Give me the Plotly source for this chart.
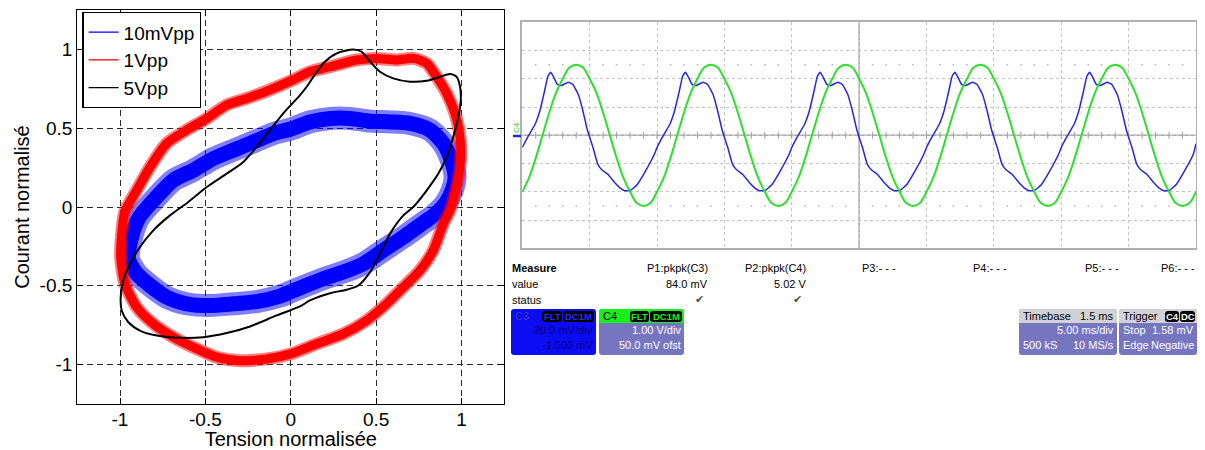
import plotly.graph_objects as go

W, H = 1205, 450               # browser window
OFF = 8                        # default page margin around the plot div
FW, FH = W - OFF, H - OFF      # figure size
VIS_R = 1197                   # right-most visible window pixel (page margin clips the rest)
FONT = "Liberation Sans, Arial, sans-serif"
SCOPE_FONT = "Liberation Sans, Arial, sans-serif"

# ---------------- left panel: normalised I-V loops ----------------
x_10mv = [-0.95, -0.932, -0.89, -0.785, -0.688, -0.571, -0.454, -0.337, -0.219, -0.102, 0.0,
          0.112, 0.23, 0.347, 0.464, 0.58, 0.698, 0.815, 0.893, 0.94, 0.962, 0.945, 0.905,
          0.84, 0.776, 0.659, 0.542, 0.425, 0.307, 0.19, 0.073, -0.005, -0.063, -0.2, -0.337,
          -0.473, -0.61, -0.727, -0.824, -0.902, -0.95]
y_10mv = [-0.33, -0.191, -0.07, 0.064, 0.17, 0.233, 0.307, 0.36, 0.413, 0.466, 0.495,
          0.54, 0.562, 0.562, 0.545, 0.54, 0.53, 0.488, 0.403, 0.297, 0.191, 0.106, 0.021,
          -0.05, -0.1, -0.191, -0.275, -0.36, -0.413, -0.455, -0.505, -0.54, -0.565, -0.60, -0.614,
          -0.625, -0.614, -0.572, -0.498, -0.424, -0.33]

x_1v = [-0.996, -0.99, -0.972, -0.902, -0.824, -0.727, -0.61, -0.492, -0.375, -0.258, -0.141,
        0.0, 0.112, 0.23, 0.386, 0.503, 0.62, 0.717, 0.796, 0.854, 0.913, 0.961, 0.985, 0.995,
        0.988, 0.965, 0.932, 0.893, 0.834, 0.756, 0.659, 0.561, 0.444, 0.307, 0.152, 0.0,
        -0.141, -0.297, -0.434, -0.571, -0.688, -0.805, -0.902, -0.971, -0.996]
y_1v = [-0.318, -0.169, -0.03, 0.106, 0.254, 0.403, 0.488, 0.562, 0.647, 0.689, 0.735,
        0.8, 0.858, 0.89, 0.933, 0.943, 0.933, 0.943, 0.911, 0.826, 0.721, 0.594, 0.488, 0.36,
        0.233, 0.106, -0.021, -0.106, -0.275, -0.403, -0.509, -0.614, -0.72, -0.805, -0.868, -0.932,
        -0.964, -0.975, -0.953, -0.89, -0.826, -0.741, -0.636, -0.487, -0.318]

x_5v = [0.981, 0.951, 0.913, 0.864, 0.796, 0.717, 0.659, 0.581, 0.522, 0.464, 0.395, 0.327,
        0.23, 0.112, 0.054, -0.083, -0.239, -0.375, -0.512, -0.649, -0.785, -0.883, -0.951,
        -0.99, -0.996, -0.981, -0.941, -0.883, -0.805, -0.707, -0.6, -0.492, -0.375, -0.278,
        -0.2, -0.122, -0.044, 0.054, 0.093, 0.19, 0.269, 0.366, 0.415, 0.464, 0.522, 0.60,
        0.698, 0.796, 0.874, 0.932, 0.971, 0.991, 0.995, 0.981]
y_5v = [0.572, 0.445, 0.318, 0.212, 0.106, 0.0, -0.053, -0.169, -0.296, -0.413, -0.498, -0.525,
        -0.547, -0.593, -0.631, -0.688, -0.758, -0.80, -0.826, -0.830, -0.816, -0.784, -0.731,
        -0.657, -0.572, -0.466, -0.36, -0.254, -0.148, -0.053, 0.032, 0.127, 0.212, 0.286,
        0.381, 0.488, 0.594, 0.71, 0.763, 0.912, 0.975, 1.0, 0.985, 0.922, 0.858, 0.816,
        0.795, 0.801, 0.826, 0.844, 0.826, 0.763, 0.678, 0.572]

series_names = ["10mVpp", "1Vpp", "5Vpp"]
tick_vals = [-1, -0.5, 0, 0.5, 1]
tick_text = ["-1", "-0.5", "0", "0.5", "1"]
x_title = "Tension normalisée"
y_title = "Courant normalisé"

# ---------------- right panel: scope traces (in divisions) ----------------
c3_t = [0.00, 0.09, 0.19, 0.26, 0.33, 0.38, 0.42, 0.46, 0.52, 0.58, 0.68, 0.75, 0.83, 0.90, 0.97, 1.05, 1.12, 1.18, 1.27, 1.37, 1.47, 1.52, 1.60, 1.71, 1.83, 1.96,
        2.00, 2.09, 2.19, 2.26, 2.33, 2.38, 2.42, 2.46, 2.52, 2.58, 2.68, 2.75, 2.83, 2.90, 2.97, 3.05, 3.12, 3.18, 3.27, 3.37, 3.47, 3.52, 3.60, 3.71, 3.83, 3.96,
        4.00, 4.09, 4.19, 4.26, 4.33, 4.38, 4.42, 4.46, 4.52, 4.58, 4.68, 4.75, 4.83, 4.90, 4.97, 5.05, 5.12, 5.18, 5.27, 5.37, 5.47, 5.52, 5.60, 5.71, 5.83, 5.96,
        6.00, 6.09, 6.19, 6.26, 6.33, 6.38, 6.42, 6.46, 6.52, 6.58, 6.68, 6.75, 6.83, 6.90, 6.97, 7.05, 7.12, 7.18, 7.27, 7.37, 7.47, 7.52, 7.60, 7.71, 7.83, 7.96,
        8.00, 8.09, 8.19, 8.26, 8.33, 8.38, 8.42, 8.46, 8.52, 8.58, 8.68, 8.75, 8.83, 8.90, 8.97, 9.05, 9.12, 9.18, 9.27, 9.37, 9.47, 9.52, 9.60, 9.71, 9.83, 9.96,
        10.0]
c3_v = [-0.43, -0.02, 0.39, 0.86, 1.56, 2.09, 2.23, 2.09, 1.80, 1.76, 1.88, 1.80, 1.45, 0.86, 0.15, -0.43, -1.02, -1.22, -1.38, -1.67, -1.90, -1.96, -1.96, -1.73, -1.26, -0.67,
        -0.43, -0.02, 0.39, 0.86, 1.56, 2.09, 2.23, 2.09, 1.80, 1.76, 1.88, 1.80, 1.45, 0.86, 0.15, -0.43, -1.02, -1.22, -1.38, -1.67, -1.90, -1.96, -1.96, -1.73, -1.26, -0.67,
        -0.43, -0.02, 0.39, 0.86, 1.56, 2.09, 2.23, 2.09, 1.80, 1.76, 1.88, 1.80, 1.45, 0.86, 0.15, -0.43, -1.02, -1.22, -1.38, -1.67, -1.90, -1.96, -1.96, -1.73, -1.26, -0.67,
        -0.43, -0.02, 0.39, 0.86, 1.56, 2.09, 2.23, 2.09, 1.80, 1.76, 1.88, 1.80, 1.45, 0.86, 0.15, -0.43, -1.02, -1.22, -1.38, -1.67, -1.90, -1.96, -1.96, -1.73, -1.26, -0.67,
        -0.43, -0.02, 0.39, 0.86, 1.56, 2.09, 2.23, 2.09, 1.80, 1.76, 1.88, 1.80, 1.45, 0.86, 0.15, -0.43, -1.02, -1.22, -1.38, -1.67, -1.90, -1.96, -1.96, -1.73, -1.26, -0.67,
        -0.30]
c4_t = [i / 10 for i in range(101)]
c4_v = [-2.0, -1.5, -0.8, 0.0, 0.8, 1.5, 2.0, 2.4, 2.5, 2.4, 2.0, 1.5, 0.8, 0.0, -0.8, -1.5, -2.0, -2.4, -2.5, -2.4,
        -2.0, -1.5, -0.8, 0.0, 0.8, 1.5, 2.0, 2.4, 2.5, 2.4, 2.0, 1.5, 0.8, 0.0, -0.8, -1.5, -2.0, -2.4, -2.5, -2.4,
        -2.0, -1.5, -0.8, 0.0, 0.8, 1.5, 2.0, 2.4, 2.5, 2.4, 2.0, 1.5, 0.8, 0.0, -0.8, -1.5, -2.0, -2.4, -2.5, -2.4,
        -2.0, -1.5, -0.8, 0.0, 0.8, 1.5, 2.0, 2.4, 2.5, 2.4, 2.0, 1.5, 0.8, 0.0, -0.8, -1.5, -2.0, -2.4, -2.5, -2.4,
        -2.0, -1.5, -0.8, 0.0, 0.8, 1.5, 2.0, 2.4, 2.5, 2.4, 2.0, 1.5, 0.8, 0.0, -0.8, -1.5, -2.0, -2.4, -2.5, -2.4,
        -2.0]
trigger_pos_div = 5.3

measure_headers = ["P1:pkpk(C3)", "P2:pkpk(C4)", "P3:- - -", "P4:- - -", "P5:- - -", "P6:- - -"]
measure_values = ["84.0 mV", "5.02 V", "", "", "", ""]
measure_status = ["\u2714", "\u2714", "", "", "", ""]

# ---------------- helpers (window pixel -> paper) ----------------
def px(x):
    return (x - OFF) / FW


def py(y):
    return 1 - (y - OFF) / FH


def rrect_path(x0, y0, x1, y1, r, top=True, bottom=True):
    rt = r if top else 0
    rb = r if bottom else 0
    p = [f"M{px(x0)},{py(y0 + rt)}"]
    if rt:
        p.append(f"Q{px(x0)},{py(y0)} {px(x0 + rt)},{py(y0)}")
    p.append(f"L{px(x1 - rt)},{py(y0)}")
    if rt:
        p.append(f"Q{px(x1)},{py(y0)} {px(x1)},{py(y0 + rt)}")
    p.append(f"L{px(x1)},{py(y1 - rb)}")
    if rb:
        p.append(f"Q{px(x1)},{py(y1)} {px(x1 - rb)},{py(y1)}")
    p.append(f"L{px(x0 + rb)},{py(y1)}")
    if rb:
        p.append(f"Q{px(x0)},{py(y1)} {px(x0)},{py(y1 - rb)}")
    p.append("Z")
    return " ".join(p)


shapes = []
annotations = []


def box(x0, y0, x1, y1, fill, r=3, top=True, bottom=True):
    shapes.append(dict(type="path", path=rrect_path(x0, y0, x1, y1, r, top, bottom),
                       xref="paper", yref="paper", fillcolor=fill,
                       line=dict(width=0), layer="above"))


def label(text, x, y, anchor="left", color="black", size=11, bold=False, family=SCOPE_FONT, angle=0):
    annotations.append(dict(text=f"<b>{text}</b>" if bold else text, x=px(x), y=py(y),
                            xref="paper", yref="paper", xanchor=anchor, yanchor="middle",
                            showarrow=False, textangle=angle, borderpad=0,
                            font=dict(family=family, size=size, color=color)))


fig = go.Figure()

# ---------------- left panel traces (noisy bands: soft halo + core) ----------------
left_series = [(x_10mv, y_10mv, "#0000ff", 15, 23), (x_1v, y_1v, "#ff0000", 9, 13), (x_5v, y_5v, "#000000", 2, 0)]
for (xs, ys, color, core, halo) in left_series:
    if halo:
        fig.add_trace(go.Scatter(x=xs, y=ys, mode="lines", xaxis="x", yaxis="y", opacity=0.5,
                                 line=dict(color=color, width=halo, shape="spline", smoothing=0.7),
                                 showlegend=False, hoverinfo="skip"))
    fig.add_trace(go.Scatter(x=xs, y=ys, mode="lines", xaxis="x", yaxis="y",
                             line=dict(color=color, width=core, shape="spline", smoothing=0.7),
                             showlegend=False, hoverinfo="skip"))
for name, (_, _, color, _, _) in zip(series_names, left_series):
    fig.add_trace(go.Scatter(x=[None], y=[None], mode="lines", name=name, xaxis="x", yaxis="y",
                             line=dict(color=color, width=1.3)))

# ---------------- scope traces ----------------
tick_t = [k / 5 for k in range(1, 50)]
fig.add_trace(go.Scatter(x=tick_t, y=[0] * len(tick_t), mode="markers", xaxis="x2", yaxis="y2",
                         marker=dict(symbol="line-ns", size=5, line=dict(width=1, color="#a0a0a0")),
                         showlegend=False, hoverinfo="skip"))
dot_t = [k / 5 for k in range(1, 50) if k % 5 != 0]
for lvl in (2.5, -2.5):
    fig.add_trace(go.Scatter(x=dot_t, y=[lvl] * len(dot_t), mode="markers", xaxis="x2", yaxis="y2",
                             marker=dict(symbol="square", size=1.6, color="#b8b8b8"),
                             showlegend=False, hoverinfo="skip"))
fig.add_trace(go.Scatter(x=c3_t, y=c3_v, mode="lines", xaxis="x2", yaxis="y2", name="C3",
                         line=dict(color="#2828d8", width=1.5, shape="spline", smoothing=0.4),
                         showlegend=False, hoverinfo="skip"))
fig.add_trace(go.Scatter(x=c4_t, y=c4_v, mode="lines", xaxis="x2", yaxis="y2", name="C4",
                         line=dict(color="#2ee02e", width=2, shape="spline", smoothing=1.0),
                         showlegend=False, hoverinfo="skip"))
# trigger markers
fig.add_trace(go.Scatter(x=[10.05], y=[0], mode="markers", xaxis="x2", yaxis="y2", cliponaxis=False,
                         marker=dict(symbol="triangle-left", size=8, color="#22cc22"),
                         showlegend=False, hoverinfo="skip"))
fig.add_trace(go.Scatter(x=[trigger_pos_div], y=[-4.17], mode="markers", xaxis="x2", yaxis="y2", cliponaxis=False,
                         marker=dict(symbol="triangle-up", size=8, color="#22cc22"),
                         showlegend=False, hoverinfo="skip"))

# scope centre lines
shapes.append(dict(type="line", xref="x2", yref="y2", x0=5, x1=5, y0=-4, y1=4,
                   line=dict(color="#a8a8a8", width=1.5), layer="below"))
shapes.append(dict(type="line", xref="x2", yref="y2", x0=0, x1=10, y0=0, y1=0,
                   line=dict(color="#a8a8a8", width=1.5), layer="below"))

# channel marker left of the grid
shapes.append(dict(type="line", xref="paper", yref="paper", x0=px(513), x1=px(521), y0=py(136), y1=py(136),
                   line=dict(color="#2828d8", width=2.5)))
label("C4", 517, 128, anchor="center", color="#22cc22", size=8, family=FONT, angle=-90)

# ---------------- measure table ----------------
label("Measure", 511, 268, bold=True)
label("value", 511, 284)
label("status", 511, 300)
col_right = [709, 807, 897, 1008, 1120, VIS_R - 1]
for hdr, val, st, xr in zip(measure_headers, measure_values, measure_status, col_right):
    label(hdr, xr, 268, anchor="right")
    if val:
        label(val, xr, 284, anchor="right")
    if st:
        label(st, xr - 4, 299, anchor="right", color="#505050", size=11, family="DejaVu Sans")

# ---------------- channel / timebase boxes ----------------
PURPLE = "#7676c0"
BADGE = 9.5
# C3
box(511, 309, 596, 355, "#0c0cf2")
label("C3", 514, 316, color="#3a3ab8")
box(542, 311, 562, 322, "#000000", r=3)
box(563, 311, 594, 322, "#000000", r=3)
label("FLT", 552, 316.5, anchor="center", color="#2a2aff", size=BADGE, bold=True)
label("DC1M", 578.5, 316.5, anchor="center", color="#2a2aff", size=BADGE, bold=True)
label("20.0 mV/div", 594, 330, anchor="right", color="#00007a")
label("-1.000 mV", 594, 345, anchor="right", color="#00007a")
# C4
box(599, 309, 684, 355, PURPLE)
box(599, 309, 684, 323, "#19f019", bottom=False)
label("C4", 602, 316, color="black")
box(630, 311, 649, 322, "#000000", r=3)
box(650, 311, 682, 322, "#000000", r=3)
label("FLT", 639.5, 316.5, anchor="center", color="#19f019", size=BADGE, bold=True)
label("DC1M", 666, 316.5, anchor="center", color="#19f019", size=BADGE, bold=True)
label("1.00 V/div", 682, 330, anchor="right", color="white")
label("50.0 mV ofst", 682, 345, anchor="right", color="white")
# Timebase
box(1019, 309, 1117, 355, PURPLE)
box(1019, 309, 1117, 323, "#d2d2d6", bottom=False)
label("Timebase", 1022, 316)
label("1.5 ms", 1115, 316, anchor="right")
label("5.00 ms/div", 1115, 330, anchor="right", color="white")
label("500 kS", 1022, 345, color="white")
label("10 MS/s", 1115, 345, anchor="right", color="white")
# Trigger
box(1119, 309, VIS_R, 355, PURPLE)
box(1119, 309, VIS_R, 323, "#d2d2d6", bottom=False)
label("Trigger", 1122, 316)
box(1165, 311, 1179, 322, "#000000", r=3)
box(1180, 311, 1195, 322, "#000000", r=3)
label("C4", 1172, 316.5, anchor="center", color="#e8ffe8", size=BADGE, bold=True)
label("DC", 1187.5, 316.5, anchor="center", color="#ffffff", size=BADGE, bold=True)
label("Stop", 1122, 330, color="white")
label("1.58 mV", 1195, 330, anchor="right", color="white")
label("Edge", 1122, 345, color="white")
label("Negative", 1195, 345, anchor="right", color="white")

# ---------------- axes ----------------
left_axis = dict(range=[-1.25, 1.25], tickmode="array", tickvals=tick_vals, ticktext=tick_text,
                 ticks="inside", ticklen=6, tickwidth=1, tickcolor="black",
                 showline=True, linecolor="black", linewidth=1.3, mirror="ticks",
                 showgrid=True, gridcolor="#2a2a2a", gridwidth=1, griddash="6px,4px",
                 zeroline=False, automargin=False,
                 tickfont=dict(family=FONT, size=19, color="black"))

scope_axis = dict(showgrid=True, gridcolor="#c4c4c4", gridwidth=1, griddash="dot",
                  showticklabels=False, ticks="", showline=True, mirror=True,
                  linecolor="#b0b0b0", linewidth=1.5, zeroline=False, automargin=False)

fig.update_layout(
    template="none",
    width=FW, height=FH,
    margin=dict(l=0, r=0, t=0, b=0),
    paper_bgcolor="white", plot_bgcolor="white",
    hovermode=False,
    xaxis=dict(domain=[px(77.3), px(504.3)], anchor="y", ticklabelstandoff=-2,
               title=dict(text=x_title, font=dict(family=FONT, size=20, color="black"), standoff=8),
               **left_axis),
    yaxis=dict(domain=[py(404), py(10)], anchor="x",
               title=dict(text=y_title, font=dict(family=FONT, size=20, color="black"), standoff=4),
               **left_axis),
    xaxis2=dict(domain=[px(522.3), px(VIS_R - 1)], anchor="y2", range=[0, 10], dtick=1, tick0=0, **scope_axis),
    yaxis2=dict(domain=[py(248.3), py(22.3)], anchor="x2", range=[-4, 4], dtick=1, tick0=0, **scope_axis),
    legend=dict(x=px(82.3), y=py(12), xanchor="left", yanchor="top",
                bgcolor="white", bordercolor="black", borderwidth=1.3,
                font=dict(family=FONT, size=19, color="black"), tracegroupgap=0),
    shapes=shapes,
    annotations=annotations,
)

fig.write_html("out.html")
